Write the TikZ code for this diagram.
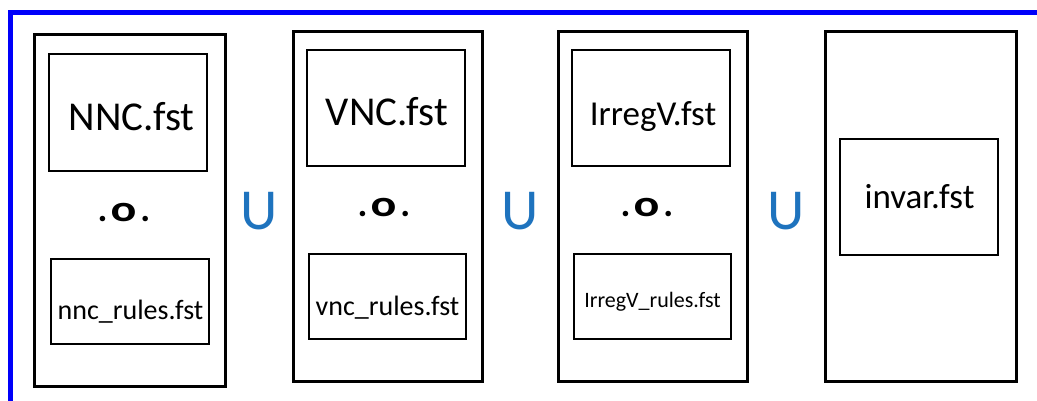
\documentclass[tikz,border=0pt]{standalone}
\usepackage{fontspec}
\usepackage{graphicx}
\setmainfont{Carlito}
\definecolor{rimblue}{RGB}{0,0,250}
\definecolor{unionblue}{RGB}{30,115,190}
\tikzset{
  rim/.style={draw=rimblue, line width=5pt, line join=miter},
  frame/.style={draw, rectangle, line width=3pt, inner sep=0pt},
  part/.style={draw, rectangle, line width=2pt, inner sep=0pt},
  lbl/.style={inner sep=0pt, anchor=base},
  compose/.style={inner sep=0pt, anchor=base, font=\fontsize{37}{37}\selectfont\bfseries},
  unionsym/.style={inner sep=0pt, text=unionblue, font=\fontsize{58}{58}\selectfont},
}
\newcommand{\fs}[1]{\fontsize{#1}{#1}\selectfont}
% composition operator: a widened o between two dots
\newcommand{\composeop}{.\kern3pt\scalebox{1.3}[1]{o}\kern4pt.}
\begin{document}
\begin{tikzpicture}[x=1pt, y=-1pt]
  \useasboundingbox (0,0) rectangle (1037,401);
  % open blue frame along the top and left
  \coordinate (rimR) at (1037,12.5);
  \coordinate (rimC) at (10.5,12.5);
  \coordinate (rimB) at (10.5,401);
  \draw[rim] (rimR) -- (rimC) -- (rimB);

  % outer frames
  \node[frame, minimum width=191pt, minimum height=352pt] (box1) at (130,210.5) {};
  \node[frame, minimum width=189pt, minimum height=350pt] (box2) at (388,206.5) {};
  \node[frame, minimum width=189pt, minimum height=350pt] (box3) at (653,206.5) {};
  \node[frame, minimum width=191pt, minimum height=350pt] (box4) at (921,206.5) {};

  % inner transducer boxes
  \node[part, minimum width=158pt, minimum height=117pt] (lex1) at (128,112.5) {};
  \node[part, minimum width=158pt, minimum height=85pt] (rul1) at (130,301.5) {};
  \node[part, minimum width=158pt, minimum height=116pt] (lex2) at (386,108) {};
  \node[part, minimum width=157pt, minimum height=85pt] (rul2) at (387.5,296.5) {};
  \node[part, minimum width=158pt, minimum height=116pt] (lex3) at (651,108) {};
  \node[part, minimum width=157pt, minimum height=85pt] (rul3) at (652.5,296.5) {};
  \node[part, minimum width=158pt, minimum height=116pt] (lex4) at (919,197) {};

  % file names
  \node[lbl, font=\fs{41}] (t1) at (131.5,131) {NNC.fst};
  \node[lbl, font=\fs{41}] (t2) at (387,126) {VNC.fst};
  \node[lbl, font=\fs{35}] (t3) at (653,126) {IrregV.fst};
  \node[lbl, font=\fs{35}] (t4) at (919.5,209) {invar.fst};
  \node[lbl, font=\fs{28}] (r1) at (130.5,319) {nnc\_rules.fst};
  \node[lbl, font=\fs{28}] (r2) at (387.5,315) {vnc\_rules.fst};
  \node[lbl, font=\fs{22}] (r3) at (652.5,307) {IrregV\_rules.fst};

  % composition operators
  \node[compose] (c1) at (124,222) {\composeop};
  \node[compose] (c2) at (384,217) {\composeop};
  \node[compose] (c3) at (647,217) {\composeop};

  % union operators
  \node[unionsym] (u1) at (259.5,211) {U};
  \node[unionsym] (u2) at (520,211) {U};
  \node[unionsym] (u3) at (786,211) {U};
\end{tikzpicture}
\end{document}
